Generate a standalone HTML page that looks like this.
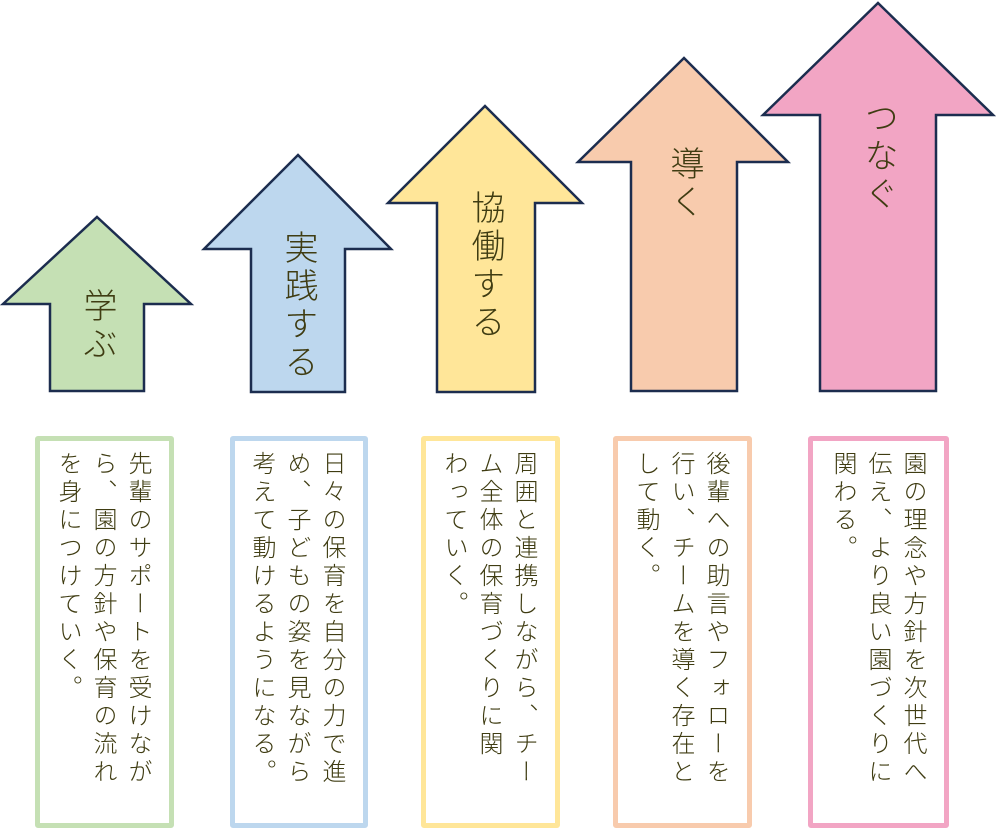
<!DOCTYPE html>
<html><head><meta charset="utf-8"><style>
body{margin:0;width:996px;height:829px;background:#fff;position:relative;overflow:hidden;font-family:"Liberation Sans","Noto Sans CJK JP",sans-serif;color:#3f3c12;font-weight:300}
svg{position:absolute;left:0;top:0}
.lab{position:absolute;writing-mode:vertical-rl;font-size:34px;letter-spacing:4px;line-height:36px;transform:translateX(-50%)}
.box{position:absolute;top:436px;border:5px solid;border-radius:3px;box-sizing:border-box;height:392px}
.box div{position:absolute;right:14px;top:10px;writing-mode:vertical-rl;font-size:24px;letter-spacing:4px;line-height:35px;height:345px}
</style></head><body>
<svg width="996" height="829">
<g stroke="#1c2d4f" stroke-width="2.5" stroke-linejoin="miter">
<polygon fill="#c5e0b4" points="97,217 191,304 144,304 144,391 50,391 50,304 3,304"/>
<polygon fill="#bdd7ee" points="298,155 391,249 345,249 345,392 251,392 251,249 204,249"/>
<polygon fill="#ffe699" points="485,106 582,203 535,203 535,392 437,392 437,203 388,203"/>
<polygon fill="#f8cbad" points="684,58 788,162 737,162 737,391 631,391 631,162 578,162"/>
<polygon fill="#f2a5c4" points="878,3 993,115 936,115 936,391 820,391 820,115 763,115"/>
</g></svg>
<div class="lab" style="left:97px;top:288px">学ぶ</div>
<div class="lab" style="left:298px;top:230px">実践する</div>
<div class="lab" style="left:485px;top:190px">協働する</div>
<div class="lab" style="left:684px;top:146px">導く</div>
<div class="lab" style="left:878px;top:100px">つなぐ</div>
<div class="box" style="left:35px;width:139px;border-color:#c5e0b4"><div>先輩のサポートを受けながら、園の方針や保育の流れを身につけていく。</div></div>
<div class="box" style="left:230px;width:138px;border-color:#bdd7ee"><div>日々の保育を自分の力で進め、子どもの姿を見ながら考えて動けるようになる。</div></div>
<div class="box" style="left:421px;width:139px;border-color:#ffe699"><div>周囲と連携しながら、チー<br>ム全体の保育づくりに関<br>わっていく。</div></div>
<div class="box" style="left:613px;width:139px;border-color:#f8cbad"><div>後輩への助言やフォローを行い、チームを導く存在として動く。</div></div>
<div class="box" style="left:808px;width:141px;border-color:#f2a5c4"><div>園の理念や方針を次世代へ伝え、より良い園づくりに関わる。</div></div>
</body></html>
